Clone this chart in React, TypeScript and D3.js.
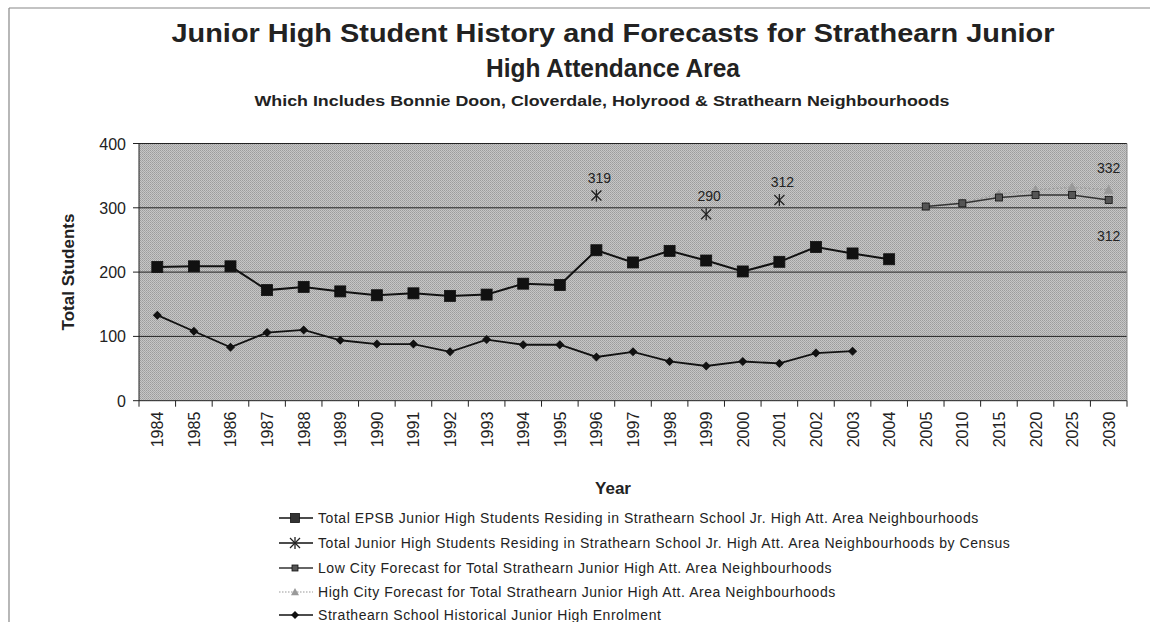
import React from "react";
import * as d3 from "d3";

const years = ["1984","1985","1986","1987","1988","1989","1990","1991","1992","1993","1994","1995","1996","1997","1998","1999","2000","2001","2002","2003","2004","2005","2010","2015","2020","2025","2030"];

const epsbYears = ["1984","1985","1986","1987","1988","1989","1990","1991","1992","1993","1994","1995","1996","1997","1998","1999","2000","2001","2002","2003","2004"];
const epsbValues = [208,209,209,172,177,170,164,167,163,165,182,180,234,215,233,218,201,216,239,229,220];

const censusYears = ["1996","1999","2001"];
const censusValues = [319,290,312];

const forecastYears = ["2005","2010","2015","2020","2025","2030"];
const lowForecast = [302,307,316,320,320,312];
const highForecast = [302,308,321,328,332,328];

const histYears = ["1984","1985","1986","1987","1988","1989","1990","1991","1992","1993","1994","1995","1996","1997","1998","1999","2000","2001","2002","2003"];
const histValues = [133,108,83,106,110,94,88,88,76,95,87,87,68,76,61,54,61,58,74,77];

const yTicks = [0,100,200,300,400];

const legendLabels = [
  "Total EPSB Junior High Students Residing in Strathearn School Jr. High Att. Area Neighbourhoods",
  "Total Junior High Students Residing in Strathearn School Jr. High Att. Area Neighbourhoods by Census",
  "Low City Forecast for Total Strathearn Junior High Att. Area Neighbourhoods",
  "High City Forecast for Total Strathearn Junior High Att. Area Neighbourhoods",
  "Strathearn School Historical Junior High Enrolment",
];

const FONT = "'Liberation Sans', Arial, Helvetica, sans-serif";

export default function App() {
  const W = 1150, H = 622;
  const left = 139, right = 1127, top = 143.5, bottom = 400.7;
  const x = d3.scaleBand<string>().domain(years).range([left, right]);
  const y = d3.scaleLinear().domain([0, 400]).range([bottom, top]);
  const cx = (yr: string) => (x(yr) as number) + x.bandwidth() / 2;

  const line = d3.line<[string, number]>().x(d => cx(d[0])).y(d => y(d[1]));
  const z = (a: string[], b: number[]) => a.map((v, i) => [v, b[i]] as [string, number]);

  const square = (px: number, py: number, s: number, fill: string, key?: any) => (
    <rect key={key} x={px - s / 2} y={py - s / 2} width={s} height={s} fill={fill} stroke="#111" strokeWidth={0.8} />
  );
  const diamond = (px: number, py: number, s: number, key?: any) => (
    <path key={key} d={`M${px},${py - s}L${px + s},${py}L${px},${py + s}L${px - s},${py}Z`} fill="#111" />
  );
  const star = (px: number, py: number, s: number, key?: any) => (
    <g key={key} stroke="#222" strokeWidth={1.3}>
      <line x1={px - s} y1={py - s} x2={px + s} y2={py + s} />
      <line x1={px - s} y1={py + s} x2={px + s} y2={py - s} />
      <line x1={px} y1={py - s - 1} x2={px} y2={py + s + 1} />
    </g>
  );
  const triangle = (px: number, py: number, s: number, key?: any) => (
    <path key={key} d={`M${px},${py - s}L${px + s},${py + s * 0.8}L${px - s},${py + s * 0.8}Z`} fill="#999" />
  );

  const legendY = [518, 543, 568, 592, 615];
  const lx1 = 279, lx2 = 313, lm = 295, ltext = 318;

  return (
    <svg width={W} height={H} style={{ position: "absolute", left: 0, top: 0, background: "#fff" }} fontFamily={FONT}>
      <defs>
        <pattern id="dither" width={2} height={2} patternUnits="userSpaceOnUse">
          <rect width={2} height={2} fill="#c6c6c6" />
          <rect width={1} height={1} fill="#9c9c9c" />
          <rect x={1} y={1} width={1} height={1} fill="#a8a8a8" />
        </pattern>
      </defs>
      <rect width={W} height={H} fill="#fff" />
      <line x1={9} y1={8} x2={W} y2={8} stroke="#888" strokeWidth={1.2} />
      <line x1={9} y1={8} x2={9} y2={H} stroke="#888" strokeWidth={1.2} />

      <text x={613} y={42} textAnchor="middle" fontSize={26} fontWeight="bold" fill="#222" textLength={883} lengthAdjust="spacingAndGlyphs">Junior High Student History and Forecasts for Strathearn Junior</text>
      <text x={613} y={77} textAnchor="middle" fontSize={26} fontWeight="bold" fill="#222" textLength={254} lengthAdjust="spacingAndGlyphs">High Attendance Area</text>
      <text x={602} y={106} textAnchor="middle" fontSize={15} fontWeight="bold" fill="#222" textLength={695} lengthAdjust="spacingAndGlyphs">Which Includes Bonnie Doon, Cloverdale, Holyrood &amp; Strathearn Neighbourhoods</text>

      <rect x={left} y={top} width={right - left} height={bottom - top} fill="url(#dither)" />
      {yTicks.map(t => (
        <g key={t}>
          {t > 0 && <line x1={left} x2={right} y1={y(t)} y2={y(t)} stroke="#222" strokeWidth={1} />}
          <line x1={left - 6} x2={left} y1={y(t)} y2={y(t)} stroke="#222" />
          <text x={left - 13} y={y(t) + 6} textAnchor="end" fontSize={16} fill="#222">{t}</text>
        </g>
      ))}
      <line x1={left} x2={left} y1={top} y2={bottom} stroke="#222" />
      <line x1={left} x2={right} y1={bottom} y2={bottom} stroke="#222" />
      <line x1={right} x2={right} y1={top} y2={bottom} stroke="#888" />
      {years.map((yr, i) => (
        <line key={"t" + i} x1={x(yr) as number} x2={x(yr) as number} y1={bottom} y2={bottom + 6} stroke="#222" />
      ))}
      <line x1={right} x2={right} y1={bottom} y2={bottom + 6} stroke="#222" />
      {years.map(yr => (
        <text key={"l" + yr} transform={`translate(${cx(yr) + 6},${bottom + 11}) rotate(-90)`} textAnchor="end" fontSize={16} fill="#222">{yr}</text>
      ))}
      <text transform={`translate(74,272) rotate(-90)`} textAnchor="middle" fontSize={17} fontWeight="bold" fill="#222">Total Students</text>
      <text x={613} y={494} textAnchor="middle" fontSize={17} fontWeight="bold" fill="#222">Year</text>

      {/* High forecast */}
      <path d={line(z(forecastYears, highForecast)) || ""} fill="none" stroke="#a0a0a0" strokeWidth={1.5} strokeDasharray="2,2" />
      {forecastYears.map((yr, i) => triangle(cx(yr), y(highForecast[i]), 5, "h" + i))}
      {/* Low forecast */}
      <path d={line(z(forecastYears, lowForecast)) || ""} fill="none" stroke="#333" strokeWidth={1.5} />
      {forecastYears.map((yr, i) => square(cx(yr), y(lowForecast[i]), 7, "#555", "lo" + i))}
      {/* EPSB */}
      <path d={line(z(epsbYears, epsbValues)) || ""} fill="none" stroke="#111" strokeWidth={2} />
      {epsbYears.map((yr, i) => square(cx(yr), y(epsbValues[i]), 11, "#111", "e" + i))}
      {/* Historical */}
      <path d={line(z(histYears, histValues)) || ""} fill="none" stroke="#111" strokeWidth={1.8} />
      {histYears.map((yr, i) => diamond(cx(yr), y(histValues[i]), 4.5, "d" + i))}
      {/* Census */}
      {censusYears.map((yr, i) => star(cx(yr), y(censusValues[i]), 5, "c" + i))}
      {censusYears.map((yr, i) => (
        <text key={"cl" + i} x={cx(yr) + 3} y={y(censusValues[i]) - 13} textAnchor="middle" fontSize={14} fill="#222">{censusValues[i]}</text>
      ))}
      <text x={cx("2030")} y={173} textAnchor="middle" fontSize={14} fill="#222">{d3.max(highForecast)}</text>
      <text x={cx("2030")} y={241} textAnchor="middle" fontSize={14} fill="#222">{lowForecast[lowForecast.length - 1]}</text>

      {/* Legend */}
      {legendLabels.map((lab, i) => {
        const ly = legendY[i];
        let lineEl, marker;
        if (i === 0) { lineEl = <line x1={lx1} x2={lx2} y1={ly} y2={ly} stroke="#111" strokeWidth={1.5} />; marker = square(lm, ly, 9, "#333"); }
        else if (i === 1) { lineEl = <line x1={lx1} x2={lx2} y1={ly} y2={ly} stroke="#111" strokeWidth={1.5} />; marker = star(lm, ly, 5); }
        else if (i === 2) { lineEl = <line x1={lx1} x2={lx2} y1={ly} y2={ly} stroke="#333" strokeWidth={1.5} />; marker = square(lm, ly, 6, "#555"); }
        else if (i === 3) { lineEl = <line x1={lx1} x2={lx2} y1={ly} y2={ly} stroke="#999" strokeWidth={1.2} strokeDasharray="1.5,1.5" />; marker = triangle(lm, ly, 4); }
        else { lineEl = <line x1={lx1} x2={lx2} y1={ly} y2={ly} stroke="#111" strokeWidth={1.5} />; marker = diamond(lm, ly, 4); }
        return (
          <g key={"lg" + i}>
            {lineEl}
            {marker}
            <text x={ltext} y={ly + 4.5} fontSize={14} letterSpacing={0.55} fill="#222">{lab}</text>
          </g>
        );
      })}
    </svg>
  );
}
